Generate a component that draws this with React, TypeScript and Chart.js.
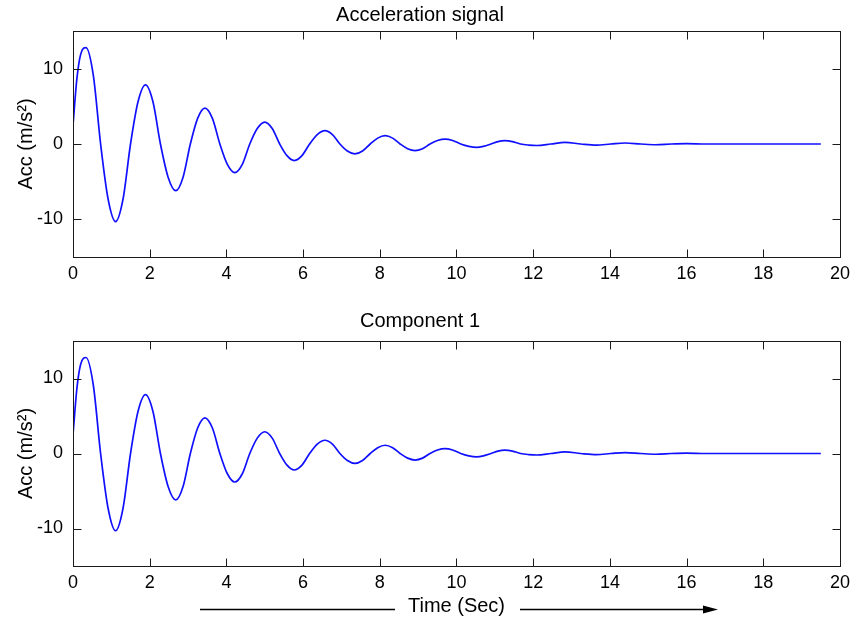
import React, { useEffect, useRef } from "react";
import { Chart, registerables } from "chart.js";

Chart.register(...registerables);

// ---- data (time in s, acceleration in m/s^2) ----
const timeSec = [
  0, 0.1, 0.2, 0.34, 0.53, 0.72, 0.915, 1.11, 1.305, 1.5, 1.695, 1.89, 2.085,
  2.28, 2.48, 2.68, 2.87, 3.06, 3.25, 3.44, 3.635, 3.83, 4.025, 4.22, 4.415,
  4.61, 4.805, 5.0, 5.195, 5.39, 5.58, 5.77, 5.97, 6.17, 6.37, 6.57, 6.765,
  6.96, 7.155, 7.35, 7.55, 7.75, 7.945, 8.14, 8.335, 8.53, 8.725, 8.92, 9.115,
  9.31, 9.505, 9.7, 9.9, 10.11, 10.32, 10.53, 10.7, 10.9, 11.08, 11.26, 11.46,
  11.67, 11.88, 12.09, 12.46, 12.83, 13.24, 13.65, 14.02, 14.4, 14.8, 15.2,
  15.6, 16.0, 16.5, 17.5, 18.5, 19.5,
];
const signalAcc = [
  2.5, 8.6, 11.9, 12.8, 9.1, 0, -7.3, -10.3, -7.3, 0, 5.6, 7.85, 5.6,
  0, -4.4, -6.2, -4.4, 0, 3.4, 4.75, 3.4, 0, -2.7, -3.8, -2.7,
  0, 2.05, 2.9, 2.05, 0, -1.55, -2.2, -1.55, 0, 1.25, 1.77, 1.25,
  0, -0.93, -1.32, -0.93, 0, 0.78, 1.1, 0.78, 0, -0.62, -0.87, -0.62,
  0, 0.47, 0.66, 0.47, 0, -0.31, -0.44, -0.31, 0, 0.32, 0.45, 0.32,
  0, -0.14, -0.2, 0, 0.22, 0, -0.15, 0, 0.13, 0, -0.1,
  0, 0.05, 0, 0, 0, 0,
];
const component1Acc = [
  2.5, 8.6, 11.9, 12.8, 9.1, 0, -7.3, -10.3, -7.3, 0, 5.6, 7.85, 5.6,
  0, -4.4, -6.2, -4.4, 0, 3.4, 4.75, 3.4, 0, -2.7, -3.8, -2.7,
  0, 2.05, 2.9, 2.05, 0, -1.55, -2.2, -1.55, 0, 1.25, 1.77, 1.25,
  0, -0.93, -1.32, -0.93, 0, 0.78, 1.1, 0.78, 0, -0.62, -0.87, -0.62,
  0, 0.47, 0.66, 0.47, 0, -0.31, -0.44, -0.31, 0, 0.32, 0.45, 0.32,
  0, -0.14, -0.2, 0, 0.22, 0, -0.15, 0, 0.13, 0, -0.1,
  0, 0.05, 0, 0, 0, 0,
];
const xTickValues = [0, 2, 4, 6, 8, 10, 12, 14, 16, 18, 20];
const yTickValues = [-10, 0, 10];
const titles = ["Acceleration signal", "Component 1"];
const yLabel = "Acc (m/s\u00B2)";
const xLabel = "Time (Sec)";

const FONT = '"Liberation Sans", Arial, sans-serif';

const framePlugin = {
  id: "frame",
  afterDraw(chart: any, _args: any, opts: any) {
    const { ctx, chartArea: a, scales } = chart;
    ctx.save();
    ctx.strokeStyle = "#1a1a1a";
    ctx.lineWidth = 1;
    const L = Math.round(a.left) + 0.5;
    const R = Math.round(a.right) + 0.5;
    const T = Math.round(a.top) + 0.5;
    const B = Math.round(a.bottom) + 0.5;
    ctx.strokeRect(L, T, R - L, B - T);
    const tl = 8;
    ctx.beginPath();
    scales.x.ticks.forEach((t: any) => {
      const px = Math.round(scales.x.getPixelForValue(t.value)) + 0.5;
      ctx.moveTo(px, B);
      ctx.lineTo(px, B - tl);
      ctx.moveTo(px, T);
      ctx.lineTo(px, T + tl);
    });
    scales.y.ticks.forEach((t: any) => {
      const py = Math.round(scales.y.getPixelForValue(t.value)) + 0.5;
      ctx.moveTo(L, py);
      ctx.lineTo(L + tl, py);
      ctx.moveTo(R, py);
      ctx.lineTo(R - tl, py);
    });
    ctx.stroke();

    if (opts && opts.timeLabel) {
      const cx = (a.left + a.right) / 2;
      const ty = opts.labelY;
      ctx.font = `20px ${FONT}`;
      ctx.fillStyle = "#000";
      ctx.textAlign = "center";
      ctx.textBaseline = "middle";
      ctx.fillText(opts.timeLabel, cx, ty);
      const ly = opts.lineY + 0.5;
      ctx.strokeStyle = "#000";
      ctx.lineWidth = 1.3;
      ctx.beginPath();
      ctx.moveTo(200, ly);
      ctx.lineTo(395, ly);
      ctx.moveTo(520, ly);
      ctx.lineTo(706, ly);
      ctx.stroke();
      ctx.fillStyle = "#000";
      ctx.beginPath();
      ctx.moveTo(718, ly);
      ctx.lineTo(703, ly - 4);
      ctx.lineTo(703, ly + 4);
      ctx.closePath();
      ctx.fill();
    }
    ctx.restore();
  },
};

function makeConfig(
  title: string,
  values: number[],
  titlePad: { top: number; bottom: number },
  xAxisHeight: number,
  frameOpts: any
): any {
  return {
    type: "line",
    data: {
      datasets: [
        {
          data: timeSec.map((t, i) => ({ x: t, y: values[i] })),
          borderColor: "#1010ff",
          borderWidth: 1.7,
          pointRadius: 0,
          fill: false,
          cubicInterpolationMode: "monotone",
        },
      ],
    },
    options: {
      animation: false,
      responsive: true,
      maintainAspectRatio: false,
      layout: { padding: { left: 0, right: 16, top: 0, bottom: 0 } },
      plugins: {
        legend: { display: false },
        tooltip: { enabled: false },
        title: {
          display: true,
          text: title,
          color: "#000",
          font: { family: FONT, size: 20, weight: "normal", lineHeight: 1.2 },
          padding: titlePad,
        },
        frame: frameOpts,
      },
      scales: {
        x: {
          type: "linear",
          min: 0,
          max: 20,
          afterBuildTicks: (s: any) => {
            s.ticks = xTickValues.map((v) => ({ value: v }));
          },
          afterFit: (s: any) => {
            s.height = xAxisHeight;
          },
          grid: { display: false, drawTicks: false },
          border: { display: false },
          ticks: {
            color: "#000",
            font: { family: FONT, size: 18 },
            padding: 6,
            maxRotation: 0,
            autoSkip: false,
          },
        },
        y: {
          type: "linear",
          min: -15,
          max: 15,
          afterBuildTicks: (s: any) => {
            s.ticks = yTickValues.map((v) => ({ value: v }));
          },
          afterFit: (s: any) => {
            s.width = 73;
          },
          grid: { display: false, drawTicks: false },
          border: { display: false },
          ticks: {
            color: "#000",
            font: { family: FONT, size: 18 },
            padding: 10,
          },
          title: {
            display: true,
            text: yLabel,
            color: "#000",
            font: { family: FONT, size: 20, lineHeight: 1.2 },
            padding: { top: 14, bottom: 0 },
          },
        },
      },
    },
    plugins: [framePlugin],
  };
}

function Panel(props: {
  top: number;
  height: number;
  title: string;
  values: number[];
  titlePad: { top: number; bottom: number };
  xAxisHeight: number;
  frameOpts: any;
}) {
  const ref = useRef<HTMLCanvasElement | null>(null);
  useEffect(() => {
    if (!ref.current) return;
    const chart = new Chart(
      ref.current,
      makeConfig(props.title, props.values, props.titlePad, props.xAxisHeight, props.frameOpts)
    );
    return () => chart.destroy();
  }, []);
  return (
    <div
      style={{
        position: "absolute",
        left: 0,
        top: props.top,
        width: 856,
        height: props.height,
      }}
    >
      <canvas ref={ref} />
    </div>
  );
}

export default function App() {
  return (
    <div
      style={{
        position: "fixed",
        left: 0,
        top: 0,
        width: 856,
        height: 622,
        background: "#fff",
      }}
    >
      <Panel
        top={0}
        height={300}
        title={titles[0]}
        values={signalAcc}
        titlePad={{ top: 3, bottom: 4 }}
        xAxisHeight={43}
        frameOpts={{}}
      />
      <Panel
        top={300}
        height={322}
        title={titles[1]}
        values={component1Acc}
        titlePad={{ top: 9, bottom: 8 }}
        xAxisHeight={56}
        frameOpts={{ timeLabel: xLabel, labelY: 306, lineY: 309 }}
      />
    </div>
  );
}
